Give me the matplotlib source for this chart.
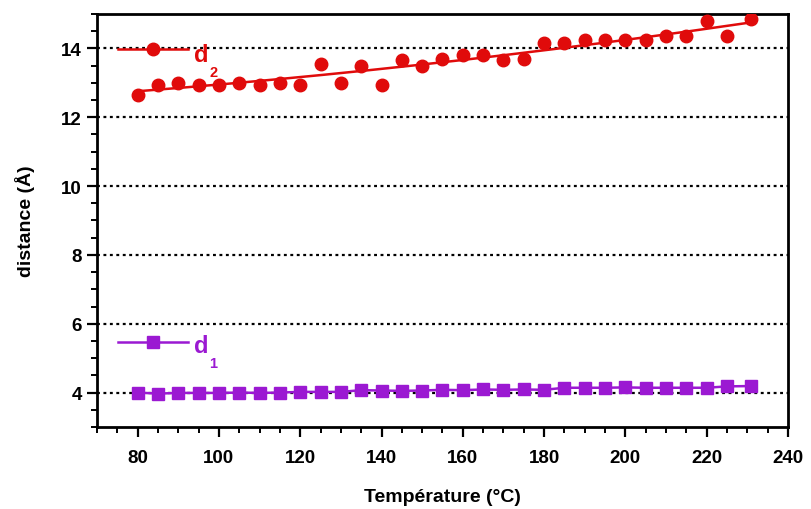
import numpy as np
import matplotlib
matplotlib.use("Agg")
import matplotlib.pyplot as plt
from matplotlib.ticker import MultipleLocator

plt.rcParams['font.family'] = ['Liberation Sans', 'DejaVu Sans']
plt.rcParams['font.weight'] = 'bold'

temperature = [80, 85, 90, 95, 100, 105, 110, 115, 120, 125, 130, 135, 140, 145, 150,
               155, 160, 165, 170, 175, 180, 185, 190, 195, 200, 205, 210, 215, 220, 225, 231]
d2 = [12.65, 12.95, 13.0, 12.95, 12.95, 13.0, 12.95, 13.0, 12.95, 13.55, 13.0, 13.5, 12.95,
      13.65, 13.5, 13.7, 13.8, 13.8, 13.65, 13.7, 14.15, 14.15, 14.25, 14.25, 14.25, 14.25,
      14.35, 14.35, 14.8, 14.35, 14.85]
d1 = [4.0, 3.97, 3.99, 3.99, 3.99, 4.0, 3.99, 4.0, 4.02, 4.02, 4.02, 4.07, 4.06, 4.05, 4.06,
      4.08, 4.07, 4.09, 4.08, 4.09, 4.08, 4.14, 4.14, 4.14, 4.15, 4.14, 4.14, 4.14, 4.14, 4.18, 4.19]

red = '#e00b0b'
purple = '#9b19d2'

fig = plt.figure(figsize=(8.11, 5.10), dpi=100)
ax = fig.add_axes([0.1196, 0.1608, 0.852, 0.8098])

t = np.array(temperature, dtype=float)
coef = np.polyfit(t, np.array(d2), 2)
tf = np.linspace(t.min(), t.max(), 200)
ax.plot(tf, np.polyval(coef, tf), color=red, lw=1.8, zorder=3)
ax.plot(t, d2, 'o', color=red, ms=9, zorder=4)
ax.plot(t, d1, '-s', color=purple, ms=8.5, lw=1.8, zorder=4)

for yv in [4, 6, 8, 10, 12, 14]:
    ax.axhline(yv, color='black', lw=1.6, ls=(0, (1.3, 1.6)), zorder=1)

ax.set_xlim(70, 240)
ax.set_ylim(3, 15)
ax.xaxis.set_major_locator(MultipleLocator(20))
ax.xaxis.set_minor_locator(MultipleLocator(5))
ax.set_yticks([4, 6, 8, 10, 12, 14])
ax.yaxis.set_minor_locator(MultipleLocator(0.5))
ax.tick_params(which='major', direction='out', length=7, width=1.6, labelsize=13.5)
ax.tick_params(axis='x', which='major', pad=9)
ax.tick_params(axis='y', which='major', pad=4)
ax.tick_params(which='minor', direction='out', length=4, width=1.4)
ax.tick_params(top=False, right=False)
for s in ax.spines.values():
    s.set_linewidth(2)
ax.set_xlabel('Température (°C)', fontsize=14, fontweight='bold', labelpad=16)
ax.set_ylabel('distance (Å)', fontsize=14, fontweight='bold', labelpad=19)


def legend_entry(marker, ms, color, main, sub, y_line, y_base, y_sub):
    tr = ax.transAxes
    ax.plot([0.0304, 0.1317], [y_line, y_line], color=color, lw=1.8, transform=tr,
            clip_on=False, zorder=5)
    ax.plot([0.0810], [y_line], marker=marker, ms=ms, color=color, transform=tr,
            clip_on=False, zorder=5)
    ax.text(0.1405, y_base, main, transform=tr, color=color, fontsize=17,
            fontweight='bold', ha='left', va='baseline', zorder=5)
    ax.text(0.1625, y_sub, sub, transform=tr, color=color, fontsize=10.5,
            fontweight='bold', ha='left', va='top', zorder=5)


legend_entry('o', 9, red, 'd', '2', 0.9153, 0.8862, 0.877)
legend_entry('s', 8.5, purple, 'd', '1', 0.2058, 0.1816, 0.173)

fig.savefig('out.png', dpi=100)
